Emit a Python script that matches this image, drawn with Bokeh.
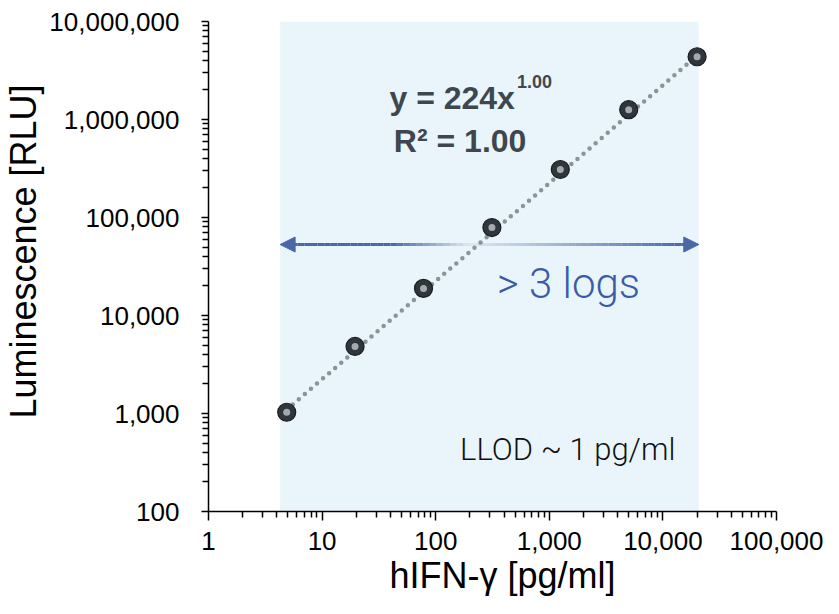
import numpy as np
from bokeh.plotting import figure
from bokeh.models import (Range1d, FixedTicker, NumeralTickFormatter, BoxAnnotation,
                          Label, Arrow, NormalHead, ColumnDataSource)
from bokeh.embed import file_html
from bokeh.resources import INLINE

# ---- data ----
conc = [4.88, 19.5, 78.1, 312.5, 1250, 5000, 20000]          # hIFN-γ [pg/ml]
rlu = [1030, 4830, 18900, 79000, 309000, 1260000, 4370000]   # Luminescence [RLU]
fit_a = 224.0
fit_b = 1.00
range_lo, range_hi = 4.27, 20700        # shaded linear range (pg/ml)
arrow_y = 53000
x_ticks = [1, 10, 100, 1000, 10000, 100000]
y_ticks = [100, 1000, 10000, 100000, 1000000, 10000000]

FONT = "Liberation Sans"
LIGHT = "Roboto Light"
NB = "\u00a0"

p = figure(width=823, height=598, x_axis_type="log", y_axis_type="log",
           x_range=Range1d(1, 1e5), y_range=Range1d(100, 1e7),
           output_backend="svg", toolbar_location=None,
           min_border_left=206, min_border_right=47, min_border_top=21, min_border_bottom=86)
p.outline_line_color = None
p.grid.visible = False
p.background_fill_color = "white"

# shaded region
p.add_layout(BoxAnnotation(left=range_lo, right=range_hi, bottom=100, top=1e7,
                           fill_color="#eaf5fb", fill_alpha=1.0, line_color=None, level="underlay"))

# fit line (dotted)
fx = np.array([conc[0], conc[-1]])
fy = fit_a * fx ** fit_b
p.line(fx, fy, line_color="#8d9499", line_width=4.5, line_dash="0 8", line_cap="round")

# markers
p.scatter(conc, rlu, size=18, fill_color="#30363b", line_color="#1a1e22", line_width=1.2)
p.scatter(conc, rlu, size=7, fill_color="#a3a9ae", line_color=None)

# arrow with gradient fade
lx0, lx1 = np.log10(range_lo * 1.25), np.log10(range_hi / 1.25)
n = 60
edges = np.logspace(lx0, lx1, n + 1)
t = np.linspace(0, 1, n)
alpha = np.where(t < 0.25, 1.0,
                 np.where(t < 0.45, 1.0 - (t - 0.25) / 0.2 * 0.92,
                          0.08 + (t - 0.45) / 0.55 * 0.92))
src = ColumnDataSource(dict(x0=edges[:-1], x1=edges[1:], y=[arrow_y] * n, a=alpha))
p.segment(x0="x0", y0="y", x1="x1", y1="y", source=src, line_color="#4a68a6",
          line_width=3, line_alpha="a")
for xs, xe in ((range_hi / 1.3, range_hi), (range_lo * 1.3, range_lo)):
    p.add_layout(Arrow(end=NormalHead(size=15, fill_color="#4a68a6", line_color="#4a68a6"),
                       x_start=xs, y_start=arrow_y, x_end=xe, y_end=arrow_y,
                       line_color="#4a68a6", line_width=3))

# texts
EQC = "#3e474e"
p.add_layout(Label(x=498, y=1.64e6, text="y = 224x", text_font=FONT, text_font_style="bold",
                   text_font_size="32px", text_color=EQC, text_align="right",
                   text_baseline="alphabetic"))
p.add_layout(Label(x=519, y=2.44e6, text="1.00", text_font=FONT, text_font_style="bold",
                   text_font_size="18px", text_color=EQC, text_baseline="alphabetic"))
p.add_layout(Label(x=164, y=6.1e5, text="R² = 1.00", text_font=FONT, text_font_style="bold",
                   text_font_size="32px", text_color=EQC, text_align="center",
                   text_baseline="alphabetic"))
p.add_layout(Label(x=346, y=21200, text="> 3 logs", text_font=LIGHT,
                   text_font_size="42px", text_color="#3a5ca6", text_baseline="alphabetic"))
p.add_layout(Label(x=164, y=430, text="LLOD ~ 1 pg/ml", text_font=LIGHT,
                   text_font_size="31px", text_color="#111111", text_baseline="alphabetic"))

# axes
minor_x = [m * 10 ** k for k in range(0, 5) for m in range(2, 10)]
minor_y = [m * 10 ** k for k in range(2, 7) for m in range(2, 10)]
p.xaxis.ticker = FixedTicker(ticks=x_ticks, minor_ticks=minor_x)
p.yaxis.ticker = FixedTicker(ticks=y_ticks, minor_ticks=minor_y)
for ax in (p.xaxis, p.yaxis):
    ax.formatter = NumeralTickFormatter(format="0,0")
    ax.axis_line_color = "black"
    ax.axis_line_width = 1.5
    ax.major_tick_line_color = "black"
    ax.minor_tick_line_color = "black"
    ax.major_tick_line_width = 1.5
    ax.minor_tick_line_width = 1.5
    ax.major_tick_in = 0
    ax.minor_tick_in = 0
    ax.major_label_text_font = FONT
    ax.major_label_text_font_size = "26px"
    ax.major_label_text_color = "black"
    ax.axis_label_text_font = FONT
    ax.axis_label_text_font_style = "normal"
    ax.axis_label_text_color = "black"
p.xaxis.major_tick_out = 9
p.xaxis.minor_tick_out = 6
p.yaxis.major_tick_out = 7
p.yaxis.minor_tick_out = 6
p.xaxis.major_label_standoff = 11
p.yaxis.major_label_standoff = 22
p.xaxis.axis_label = NB * 2 + "hIFN-γ [pg/ml]"
p.yaxis.axis_label = NB * 3 + "Luminescence [RLU]"
p.xaxis.axis_label_text_font_size = "36px"
p.yaxis.axis_label_text_font_size = "36px"
p.xaxis.axis_label_standoff = 2
p.yaxis.axis_label_standoff = 2

open("out.html", "w").write(file_html(p, INLINE))
